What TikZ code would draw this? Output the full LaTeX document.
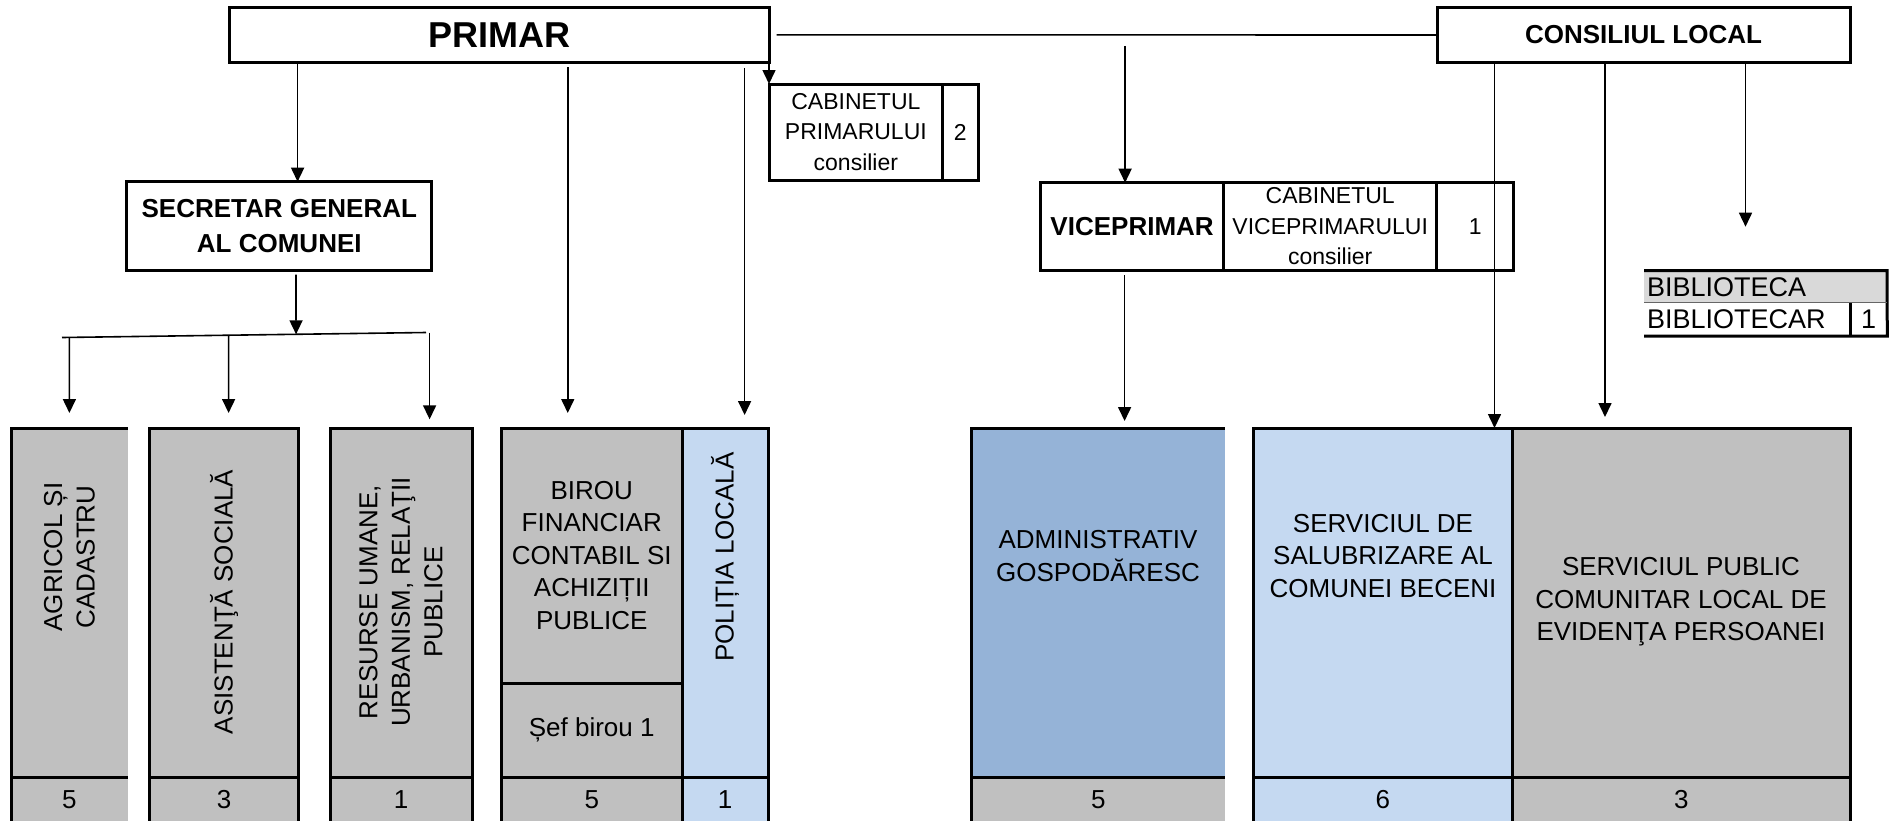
\documentclass[tikz,border=0pt]{standalone}
\usepackage{fontspec}
\setmainfont{Liberation Sans}
\usetikzlibrary{arrows.meta,calc}

\definecolor{gri}{HTML}{C0C0C0}
\definecolor{gribib}{HTML}{D9D9D9}
\definecolor{albdeschis}{HTML}{C5D9F1}
\definecolor{albinchis}{HTML}{95B3D7}

\begin{document}
\begin{tikzpicture}[x=1pt, y=-1pt,
    casuta/.style={draw, line width=3pt, anchor=north west, inner sep=0pt, outer sep=0pt, align=center},
    celula/.style={anchor=north west, inner sep=0pt, outer sep=0pt},
    coloana/.style={celula, draw, line width=3pt},
    chenar/.style={line width=3pt},
    linie/.style={line width=1.6pt},
    sageata/.style={linie, -{Triangle[length=14pt,width=13pt]}},
    scris/.style={font=\fontsize{26}{32.5}\selectfont, align=center},
    scrismic/.style={font=\fontsize{23}{30.7}\selectfont, align=center},
    scrisbib/.style={font=\fontsize{27}{30}\selectfont},
    titlu/.style={font=\fontsize{26}{35}\selectfont\bfseries, align=center}]

    \useasboundingbox (0,0) rectangle (1893,820);

    % Conducere
    \node[casuta, minimum width=539.4pt, minimum height=55pt, font=\fontsize{36}{40}\selectfont\bfseries] (primar) at (229.6,7.3) {PRIMAR};
    \node[casuta, titlu, minimum width=413pt, minimum height=55.4pt] (consiliu) at (1437,7.3) {CONSILIUL LOCAL};
    \node[casuta, titlu, minimum width=305pt, minimum height=89pt] (secretar) at (126.8,181.7) {SECRETAR GENERAL\\AL COMUNEI};
    \node[casuta, scrismic, minimum width=173.7pt, minimum height=96pt] (cabp) at (769,84) {CABINETUL\\PRIMARULUI\\consilier};
    \node[casuta, scrismic, minimum width=35.3pt, minimum height=96pt] (cabpnr) at (942.7,84) {2};
    \node[casuta, titlu, minimum width=183pt, minimum height=87.3pt] (vice) at (1040.6,182.7) {VICEPRIMAR};
    \node[casuta, scrismic, minimum width=213.2pt, minimum height=87.3pt] (cabv) at (1223.6,182.7) {CABINETUL\\VICEPRIMARULUI\\consilier};
    \node[casuta, scrismic, minimum width=76.7pt, minimum height=87.3pt] (cabvnr) at (1436.8,182.7) {1};

    % Biblioteca
    \node[celula, scrisbib, fill=gribib, text width=237pt, align=left, inner xsep=3pt, minimum height=32pt] (biblio) at (1644,270.7) {BIBLIOTECA};
    \node[celula, scrisbib, text width=200pt, align=left, inner xsep=3pt, minimum height=33.3pt] (bibliotecar) at (1644,302.7) {BIBLIOTECAR};
    \node[celula, scrisbib, minimum width=37.3pt, minimum height=33.3pt] (bibnr) at (1850,302.7) {1};
    \draw[chenar] (biblio.north west) -- (biblio.north east) -- (bibnr.south east) -- (bibliotecar.south west);
    \draw[chenar] (bibnr.north west) -- (bibnr.south west);
    \draw[line width=0.8pt, black!60] (bibliotecar.north west) -- (bibnr.north east);

    % Compartimente
    \node[celula, fill=gri, minimum width=116.4pt, minimum height=349pt] (agricol) at (11.2,428) {};
    \node[celula, scris, fill=gri, minimum width=116.4pt, minimum height=46pt] (agricolnr) at (11.2,777) {5};
    \node[coloana, fill=gri, minimum width=149pt, minimum height=349pt] (asist) at (149.5,428) {};
    \node[coloana, scris, fill=gri, minimum width=149pt, minimum height=46pt] (asistnr) at (149.5,777) {3};
    \node[coloana, fill=gri, minimum width=142pt, minimum height=349pt] (resurse) at (330,428) {};
    \node[coloana, scris, fill=gri, minimum width=142pt, minimum height=46pt] (resursenr) at (330,777) {1};
    \node[coloana, scris, fill=gri, minimum width=180.5pt, minimum height=255pt] (birou) at (501.5,428) {BIROU\\FINANCIAR\\CONTABIL SI\\ACHIZIȚII\\PUBLICE};
    \node[coloana, scris, fill=gri, minimum width=180.5pt, minimum height=94pt] (sef) at (501.5,683) {Șef birou 1};
    \node[coloana, scris, fill=gri, minimum width=180.5pt, minimum height=46pt] (birounr) at (501.5,777) {5};
    \node[coloana, fill=albdeschis, minimum width=86pt, minimum height=349pt] (politia) at (682,428) {};
    \node[coloana, scris, fill=albdeschis, minimum width=86pt, minimum height=46pt] (politianr) at (682,777) {1};
    \node[celula, fill=albinchis, minimum width=253.4pt, minimum height=349pt] (admin) at (971.6,428) {};
    \node[celula, scris, fill=gri, minimum width=253.4pt, minimum height=46pt] (adminnr) at (971.6,777) {5};
    \node[coloana, fill=albdeschis, minimum width=259pt, minimum height=349pt] (salub) at (1253.4,428) {};
    \node[coloana, scris, fill=albdeschis, minimum width=259pt, minimum height=46pt] (salubnr) at (1253.4,777) {6};
    \node[coloana, fill=gri, minimum width=338pt, minimum height=349pt] (servpub) at (1512.4,428) {};
    \node[coloana, scris, fill=gri, minimum width=338pt, minimum height=46pt] (servpubnr) at (1512.4,777) {3};
    % fara margine dreapta
    \draw[chenar] (agricolnr.south west) |- (agricol.north east);
    \draw[chenar] (agricol.south west) -- (agricol.south east);
    \draw[chenar] (adminnr.south west) |- (admin.north east);
    \draw[chenar] (admin.south west) -- (admin.south east);

    \node[scris, rotate=90] (agricoltxt) at (69.4,557) {AGRICOL ȘI\\CADASTRU};
    \node[scris, rotate=90] (asisttxt) at (224,602) {ASISTENŢĂ SOCIALĂ};
    \node[scris, rotate=90] (resursetxt) at (401,602) {RESURSE UMANE,\\URBANISM, RELAŢII\\PUBLICE};
    \node[scris, rotate=90] (politiatxt) at (725,557) {POLIȚIA LOCALĂ};
    \node[scris] (admintxt) at (1098,556) {ADMINISTRATIV\\GOSPODĂRESC};
    \node[scris] (salubtxt) at (1383,556) {SERVICIUL DE\\SALUBRIZARE AL\\COMUNEI BECENI};
    \node[scris] (servpubtxt) at (1681,602) {SERVICIUL PUBLIC\\COMUNITAR LOCAL DE\\EVIDENŢA PERSOANEI};

    % Legaturi PRIMAR
    \draw[linie, shorten <=7.5pt] (primar.east) -- (consiliu.west);
    \draw[sageata] ([xshift=18.3pt]secretar.north |- primar.south) -- ([xshift=18.3pt]secretar.north);
    \draw[sageata, shorten <=5pt, shorten >=15pt] ([xshift=-24pt]birou.north |- primar.south) -- ([xshift=-24pt]birou.north);
    \draw[sageata, shorten <=6pt, shorten >=13pt] ([xshift=19.6pt]politia.north |- primar.south) -- ([xshift=19.6pt]politia.north);
    \draw[sageata] (primar.south east) -- (cabp.north west);

    % VICEPRIMAR
    \draw[sageata, shorten <=11pt] ([xshift=-7pt]vice.north |- primar.east) -- ([xshift=-7pt]vice.north);
    \draw[sageata, shorten <=5pt, shorten >=7pt] ([xshift=-7.5pt]vice.south) -- ([xshift=-7.5pt]vice.south |- admin.north);

    % CONSILIUL LOCAL
    \draw[sageata] ([xshift=111.6pt]salub.north |- consiliu.south) -- ([xshift=111.6pt]salub.north);
    \draw[sageata, shorten >=11pt] ([xshift=-76.4pt]servpub.north |- consiliu.south) -- ([xshift=-76.4pt]servpub.north);
    \draw[sageata, shorten >=44pt] ([xshift=-20pt]biblio.north |- consiliu.south) -- ([xshift=-20pt]biblio.north);

    % SECRETAR GENERAL
    \coordinate (barst) at (62,337.5);
    \coordinate (bardr) at (426,332.5);
    \draw[linie] (barst) -- (bardr);
    \draw[sageata, shorten <=4pt] ([xshift=16.7pt]secretar.south) -- ($(barst)!0.643!(bardr)$);
    \draw[sageata, shorten >=15pt] ($(barst)!0.0203!(bardr)$) -- (agricol.north);
    \draw[sageata, shorten >=15pt] ($(barst)!0.4577!(bardr)$) -- ([xshift=4.6pt]asist.north);
    \draw[sageata, shorten >=8.7pt] ([xshift=28.6pt]resurse.north |- bardr) -- ([xshift=28.6pt]resurse.north);

\end{tikzpicture}
\end{document}
